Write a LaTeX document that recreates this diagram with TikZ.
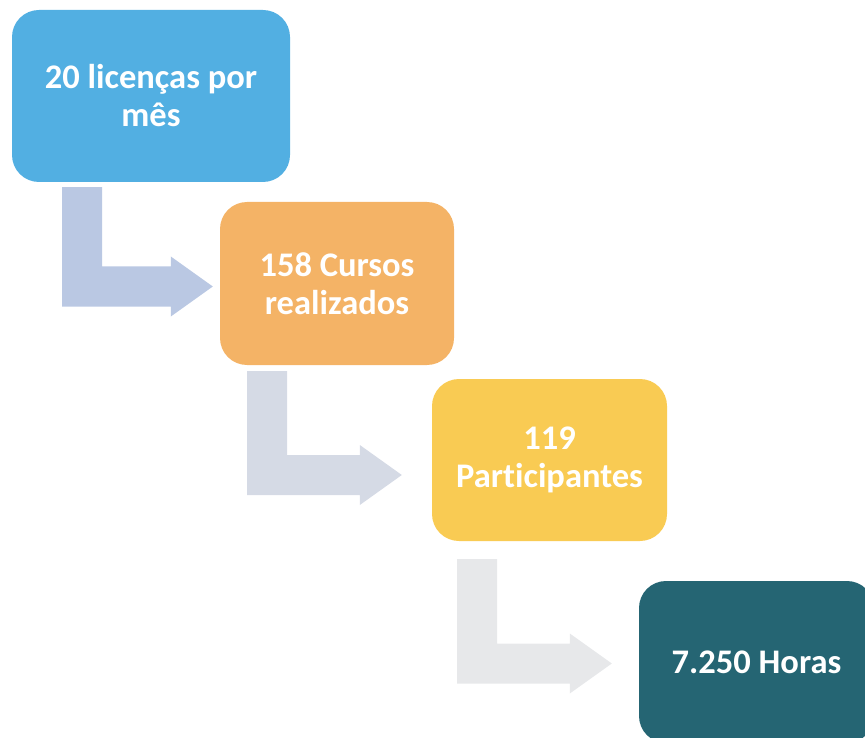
\documentclass[tikz,border=0pt]{standalone}
\usepackage{fontspec}
\setmainfont{Carlito}[Ligatures=NoCommon]
\usetikzlibrary{calc}
\definecolor{cblue}{HTML}{52AFE2}
\definecolor{corange}{HTML}{F4B366}
\definecolor{cyellow}{HTML}{F9CB53}
\definecolor{cteal}{HTML}{256573}
\definecolor{carrA}{HTML}{BAC8E3}
\definecolor{carrB}{HTML}{D5DAE5}
\definecolor{carrC}{HTML}{E7E8EA}
\tikzset{
  box/.style={rounded corners=27pt, inner sep=0pt, text=white,
    font=\fontsize{34.5}{38}\selectfont\bfseries, align=center},
}
\newcommand\bentarrow[3]{% #1 colour, #2 bar top-left coordinate, #3 tip coordinate
  \fill[#1] (#2) -- ($(#2)+(40,0)$) -- ($(#2|-#3)+(40,-20)$) -- ($(#3)+(-42,-20)$)
    -- ($(#3)+(-42,-30)$) -- (#3) -- ($(#3)+(-42,30)$) -- ($(#3)+(-42,20)$)
    -- ($(#2|-#3)+(0,20)$) -- cycle;}
\begin{document}
\begin{tikzpicture}[x=1pt,y=-1pt]
\useasboundingbox (0,0) rectangle (865,738);
\clip (0,0) rectangle (865,738);
\node[box, fill=cblue, minimum width=278pt, minimum height=172pt] (b1) at (151,96) {20 licenças por\\mês};
\node[box, fill=corange, minimum width=234pt, minimum height=163pt] (b2) at (337,283.5) {158 Cursos\\realizados};
\node[box, fill=cyellow, minimum width=235pt, minimum height=162pt] (b3) at (549.5,460) {119\\Participantes};
\node[box, fill=cteal, minimum width=235pt, minimum height=162pt] (b4) at (756.5,662) {7.250 Horas};
\coordinate (a1s) at ($(b1.south)+(-89,5)$);
\coordinate (a1t) at ($(b2.west)+(-7,3)$);
\coordinate (a2s) at ($(b2.south)+(-90,6)$);
\coordinate (a2t) at ($(b3.west)+(-30,15)$);
\coordinate (a3s) at ($(b3.south)+(-92.5,18)$);
\coordinate (a3t) at ($(b4.west)+(-27,1.5)$);
\bentarrow{carrA}{a1s}{a1t}
\bentarrow{carrB}{a2s}{a2t}
\bentarrow{carrC}{a3s}{a3t}
\end{tikzpicture}
\end{document}
